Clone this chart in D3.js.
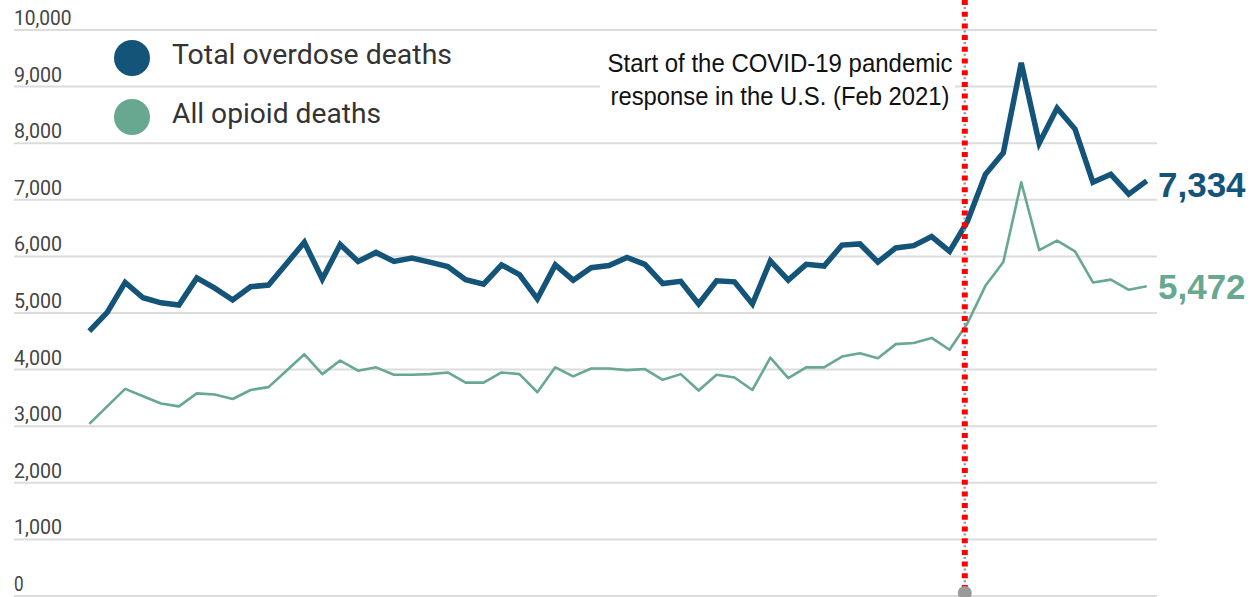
<!DOCTYPE html>
<html>
<head>
<meta charset="utf-8">
<script src="https://cdn.jsdelivr.net/npm/d3@7/dist/d3.min.js"></script>
<style>
    body { margin: 0; background: #fff; }
    svg { display: block; }
</style>
</head>
<body>
<div id="chart"></div>
<script>

//==================================//
// Data (monthly counts)
//

const totalDeaths = [4680, 5010, 5540, 5270, 5180, 5140, 5620, 5440, 5230, 5465,
    5494, 5870, 6250, 5600, 6210, 5910, 6070, 5910, 5970, 5900,
    5820, 5590, 5510, 5850, 5680, 5250, 5850, 5580, 5800, 5840,
    5980, 5860, 5520, 5560, 5160, 5570, 5550, 5160, 5920, 5580,
    5860, 5830, 6200, 6220, 5900, 6150, 6190, 6350, 6090, 6620,
    7450, 7830, 9420, 8000, 8620, 8250, 7310, 7450, 7100, 7334]

const opioidDeaths = [3040, 3350, 3660, 3530, 3400, 3350, 3580, 3560, 3480, 3640,
    3690, 3980, 4270, 3920, 4160, 3980, 4040, 3910, 3910, 3920,
    3950, 3770, 3770, 3950, 3920, 3600, 4040, 3880, 4020, 4020,
    3990, 4010, 3820, 3920, 3630, 3910, 3860, 3640, 4210, 3850,
    4040, 4040, 4230, 4290, 4200, 4450, 4470, 4560, 4350, 4820,
    5480, 5900, 7310, 6110, 6280, 6090, 5540, 5590, 5410, 5472]

const yTicks = [0, 1000, 2000, 3000, 4000, 5000, 6000, 7000, 8000, 9000, 10000]

const seriesNames = ['Total overdose deaths', 'All opioid deaths']
const annotationLines = ['Start of the COVID-19 pandemic', 'response in the U.S. (Feb 2021)']
const eventIndex = 48.85   // month where the dotted marker sits

//==================================//
// Layout
//

const svgw = 1253, svgh = 597
const blue = '#145478', green = '#68a891'

let svg = d3.select('#chart').append('svg')
    .attr('width', svgw)
    .attr('height', svgh)

let x = d3.scaleLinear().domain([0, totalDeaths.length - 1]).range([89.3, 1146.7])
let y = d3.scaleLinear().domain([0, 10000]).range([596, 30])

//====[ grid + y labels ]====//

let g_grid = svg.append('g')

g_grid.selectAll('line')
    .data(yTicks)
    .enter()
    .append('line')
    .attr('x1', 14)
    .attr('x2', 1157)
    .attr('y1', d => y(d))
    .attr('y2', d => y(d))
    .attr('stroke', '#dcdcdc')
    .attr('stroke-width', 2)

g_grid.selectAll('text')
    .data(yTicks)
    .enter()
    .append('text')
    .attr('x', 14)
    .attr('y', d => y(d) - 5)
    .attr('font-family', 'Roboto, sans-serif')
    .attr('font-size', 20)
    .attr('fill', '#444')
    .attr('textLength', d => d3.format(',')(d).length * 9.6)
    .attr('lengthAdjust', 'spacingAndGlyphs')
    .text(d3.format(','))

//====[ annotation box (hides grid behind text) ]====//

svg.append('rect')
    .attr('x', 600)
    .attr('y', 38)
    .attr('width', 355)
    .attr('height', 82)
    .attr('fill', '#fff')

svg.append('g').selectAll('text')
    .data(annotationLines)
    .enter()
    .append('text')
    .attr('x', 780)
    .attr('y', (d, i) => 72 + i * 32.5)
    .attr('text-anchor', 'middle')
    .attr('font-family', 'Liberation Sans, Arial, sans-serif')
    .attr('font-size', 26)
    .attr('fill', '#111')
    .attr('textLength', (d, i) => i === 0 ? 345 : 339)
    .attr('lengthAdjust', 'spacingAndGlyphs')
    .text(d => d)

//====[ lines ]====//

let line = d3.line()
    .x((d, i) => x(i))
    .y(d => y(d))

svg.append('path')
    .datum(opioidDeaths)
    .attr('d', line)
    .attr('fill', 'none')
    .attr('stroke', green)
    .attr('stroke-width', 2.6)
    .attr('stroke-linejoin', 'round')

svg.append('path')
    .datum(totalDeaths)
    .attr('d', line)
    .attr('fill', 'none')
    .attr('stroke', blue)
    .attr('stroke-width', 5.5)
    .attr('stroke-linejoin', 'miter')

//====[ event marker ]====//

let ex = x(eventIndex)

svg.append('line')
    .attr('x1', ex).attr('x2', ex)
    .attr('y1', 0).attr('y2', 590)
    .attr('stroke', '#9a9a9a')
    .attr('stroke-width', 2.5)
    .attr('stroke-dasharray', '2 9.7')
    .attr('stroke-dashoffset', -7)

svg.append('line')
    .attr('x1', ex).attr('x2', ex)
    .attr('y1', 0).attr('y2', 590)
    .attr('stroke', '#ff0000')
    .attr('stroke-width', 6)
    .attr('stroke-dasharray', '5 6.7')

svg.append('circle')
    .attr('cx', ex)
    .attr('cy', 593)
    .attr('r', 7)
    .attr('fill', '#9a9a9a')

//====[ end labels ]====//

let lastIdx = totalDeaths.length - 1

svg.append('g').selectAll('text')
    .data([{v: totalDeaths[lastIdx], c: blue, dy: 16}, {v: opioidDeaths[lastIdx], c: green, dy: 13}])
    .enter()
    .append('text')
    .attr('x', 1158)
    .attr('y', d => y(d.v) + d.dy)
    .attr('font-family', 'Liberation Sans, Arial, sans-serif')
    .attr('font-weight', 'bold')
    .attr('font-size', 35)
    .attr('fill', d => d.c)
    .text(d => d3.format(',')(d.v))

//====[ legend ]====//

let g_legend = svg.append('g').selectAll('g')
    .data(seriesNames)
    .enter()
    .append('g')
    .attr('transform', (d, i) => 'translate(132, ' + (58 + i * 59) + ')')

g_legend.append('circle')
    .attr('r', 18)
    .attr('fill', (d, i) => i === 0 ? blue : green)

g_legend.append('text')
    .attr('x', 40)
    .attr('y', 6)
    .attr('font-family', 'Roboto, sans-serif')
    .attr('font-size', 28)
    .attr('fill', '#333')
    .attr('textLength', (d, i) => i === 0 ? 280 : 209)
    .attr('lengthAdjust', 'spacingAndGlyphs')
    .text(d => d)

</script>
</body>
</html>
